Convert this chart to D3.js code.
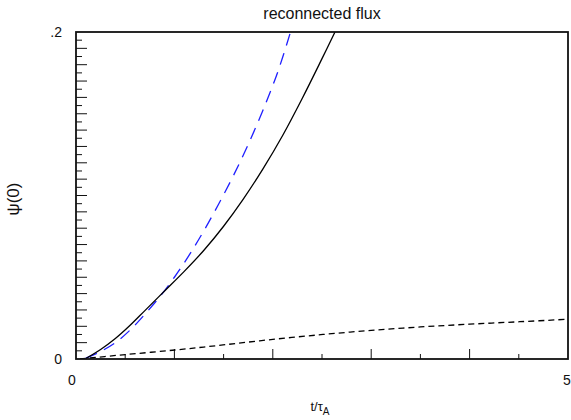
<!DOCTYPE html>
<html><head><meta charset="utf-8">
<script src="https://cdn.jsdelivr.net/npm/d3@7"></script>
<style>body{margin:0;background:#fff}svg{display:block}text{font-family:"Liberation Sans",Arial,sans-serif;fill:#111}</style>
</head><body><svg id="c" width="571" height="420"></svg>
<script>
const title = "reconnected flux";
const xTickLabels = ["0","5"];
const xTickValues = [0,5];
const yTickLabels = ["0",".2"];
const yTickValues = [0,0.2];
const solidT = [0.1,0.25,0.4,0.55,0.7,0.9,1.1,1.3,1.5,1.7,1.9,2.1,2.3,2.5,2.632];
const solidV = [0.0003,0.0058,0.0125,0.0206,0.0296,0.0416,0.0536,0.0665,0.0812,0.0978,0.1163,0.1367,0.1595,0.1837,0.2];
const blueT = [0.1,0.25,0.4,0.55,0.7,0.85,1.0,1.15,1.3,1.45,1.6,1.75,1.9,2.05,2.18];
const blueV = [0.0005,0.0046,0.0100,0.0177,0.0274,0.038,0.050,0.0635,0.0785,0.0948,0.1122,0.1312,0.1522,0.1755,0.2];
const dashT = [0.04,0.447,1.006,1.494,2.0,2.51,3.0,3.5,4.0,4.51,5.0];
const dashV = [0,0.0024,0.0055,0.0086,0.0120,0.0150,0.0175,0.0196,0.0213,0.0228,0.0243];

const svg = d3.select("#c");
const L=76,R=568,T=32,B=359;
const x = d3.scaleLinear().domain([0,5]).range([L,R]);
const y = d3.scaleLinear().domain([0,0.2]).range([B,T]);

svg.append("defs").append("clipPath").attr("id","pc").append("rect")
  .attr("x",L).attr("y",T).attr("width",R-L).attr("height",B-T);

// ticks (inward)
const xt = d3.range(1,10).map(i=>i*0.5);
svg.append("g").selectAll("line").data(xt).join("line")
  .attr("x1",d=>x(d)).attr("x2",d=>x(d)).attr("y1",B)
  .attr("y2",d=>B-(Math.abs(d-Math.round(d))<1e-6?10:5))
  .attr("stroke","#111").attr("stroke-width",1);
const yt = d3.range(1,40).map(i=>i*0.005);
svg.append("g").selectAll("line").data(yt).join("line")
  .attr("y1",d=>y(d)).attr("y2",d=>y(d)).attr("x1",L)
  .attr("x2",d=>L+(Math.round(d/0.005)%2===0?11:6))
  .attr("stroke","#111").attr("stroke-width",1);

const line = d3.line().x(d=>x(d[0])).y(d=>y(d[1])).curve(d3.curveCatmullRom);
const g = svg.append("g").attr("clip-path","url(#pc)");
g.append("path").datum(dashT.map((t,i)=>[t,dashV[i]])).attr("d",line)
  .attr("fill","none").attr("stroke","#000").attr("stroke-width",1.3).attr("stroke-dasharray","6,4");
g.append("path").datum(blueT.map((t,i)=>[t,blueV[i]])).attr("d",line)
  .attr("fill","none").attr("stroke","#1f1fff").attr("stroke-width",1.3).attr("stroke-dasharray","12,8");
g.append("path").datum(solidT.map((t,i)=>[t,solidV[i]])).attr("d",line)
  .attr("fill","none").attr("stroke","#000").attr("stroke-width",1.3);

// frame
svg.append("rect").attr("x",L).attr("y",T).attr("width",R-L).attr("height",B-T)
  .attr("fill","none").attr("stroke","#111").attr("stroke-width",1.8);

// labels
svg.append("g").selectAll("text").data(xTickValues).join("text")
  .attr("x",(d,i)=>x(d)+(i===0?-4:-1)).attr("y",385).attr("text-anchor","middle")
  .attr("font-size",14).text((d,i)=>xTickLabels[i]);
svg.append("g").selectAll("text").data(yTickValues).join("text")
  .attr("x",L-14).attr("y",d=>y(d)+5).attr("text-anchor","end")
  .attr("font-size",14).text((d,i)=>yTickLabels[i]);
svg.append("text").attr("x",322).attr("y",19).attr("text-anchor","middle")
  .attr("font-size",16).text(title);
const xl = svg.append("text").attr("x",320).attr("y",411).attr("text-anchor","middle").attr("font-size",13);
xl.append("tspan").text("t/τ");
xl.append("tspan").attr("font-size",10).attr("dy",4).text("A");
svg.append("text").attr("transform","translate(19,199) rotate(-90)").attr("text-anchor","middle")
  .attr("font-size",17).text("ψ(0)");
</script></body></html>
